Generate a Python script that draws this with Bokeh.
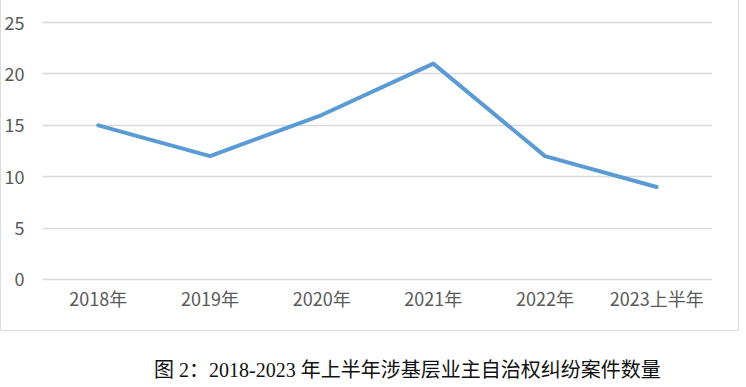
from bokeh.plotting import figure
from bokeh.models import Range1d, FactorRange, Label
from bokeh.layouts import column
from bokeh.embed import file_html
from bokeh.resources import INLINE

categories = ["2018年", "2019年", "2020年", "2021年", "2022年", "2023上半年"]
cases = [15, 12, 16, 21, 12, 9]
y_ticks = [0, 5, 10, 15, 20, 25]
caption = "图 2：2018-2023 年上半年涉基层业主自治权纠纷案件数量"

BORDER = "1.5px solid #dcdcdc"
p = figure(width=737, height=330, output_backend="svg", toolbar_location=None,
           x_range=FactorRange(*categories), y_range=Range1d(-0.2, 25.2),
           frame_width=668, frame_height=260,
           min_border_left=41, min_border_right=28, min_border_top=20, min_border_bottom=50)
p.styles = {"border-left": BORDER, "border-right": BORDER, "border-bottom": BORDER}
p.outline_line_color = None
p.background_fill_color = "white"
p.border_fill_color = "white"

p.line(x=categories, y=cases, line_color="#5B9BD5", line_width=4,
       line_cap="round", line_join="round")

p.yaxis.ticker = y_ticks
p.yaxis.axis_line_color = None
p.yaxis.major_tick_line_color = None
p.yaxis.minor_tick_line_color = None
p.yaxis.major_label_standoff = 12
p.yaxis.major_label_text_font = "Noto Sans CJK SC"
p.yaxis.major_label_text_font_size = "18px"
p.yaxis.major_label_text_color = "#595959"

p.xaxis.axis_line_color = None
p.xaxis.major_tick_line_color = None
p.xaxis.major_tick_out = 0
p.xaxis.major_label_standoff = 3
p.xaxis.major_label_text_font = "Noto Sans CJK SC"
p.xaxis.major_label_text_font_size = "18px"
p.xaxis.major_label_text_color = "#595959"

p.xgrid.grid_line_color = None
p.ygrid.grid_line_color = "#d9d9d9"
p.ygrid.grid_line_width = 1.3

# caption strip
p2 = figure(width=746, height=55, output_backend="svg", toolbar_location=None,
            x_range=Range1d(0, 746), y_range=Range1d(55, 0),
            x_axis_location=None, y_axis_location=None,
            min_border=0, min_border_left=0, min_border_right=0,
            min_border_top=0, min_border_bottom=0)
p2.grid.grid_line_color = None
p2.outline_line_color = None
cap = Label(x=124, y=38.5, text=caption,
            text_font="'Liberation Serif', 'Noto Sans CJK SC'", text_font_size="20px",
            text_color="#111111", text_baseline="middle", text_align="left")
p2.add_layout(cap)

layout = column(p, p2, spacing=0)
open("out.html", "w").write(file_html(layout, INLINE))
